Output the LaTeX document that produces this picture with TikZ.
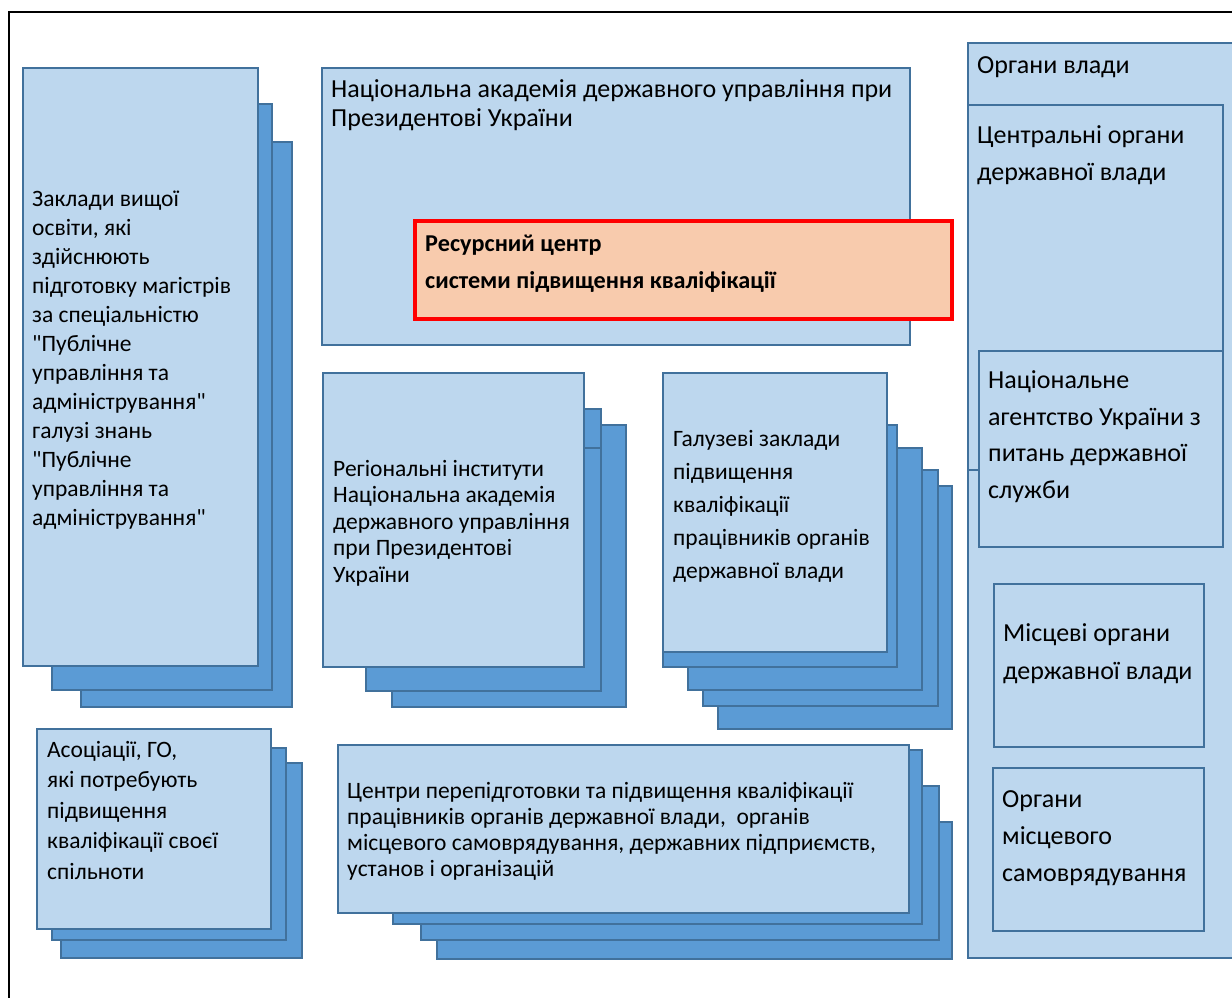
\documentclass[tikz,border=0pt]{standalone}
\usepackage{fontspec}
\setmainfont{Carlito}
\usepackage{tikz}
\usetikzlibrary{positioning}
\definecolor{paleblue}{HTML}{BDD7EE}
\definecolor{midblue}{HTML}{5B9BD5}
\definecolor{edgeblue}{HTML}{41719C}
\definecolor{peach}{HTML}{F8CBAD}

% box from corner (x1,y1) to (x2,y2)
\newcommand{\panel}[6]{%
  \node[#1, minimum width={#4-#2}, minimum height={#5-#3}] (#6) at ({(#2+#4)/2},{(#3+#5)/2}) {};}
\newcommand{\fsz}[2]{\fontsize{#1}{#2}\selectfont}
\newcommand{\qq}{\textquotedbl}

\begin{document}
\begin{tikzpicture}[x=1pt,y=-1pt,
    front/.style={rectangle,draw=edgeblue,line width=2pt,fill=paleblue,inner sep=0pt,outer sep=0pt},
    back/.style={rectangle,draw=edgeblue,line width=2pt,fill=midblue,inner sep=0pt,outer sep=0pt},
    hub/.style={rectangle,draw=red,line width=3.5pt,fill=peach,inner sep=0pt,outer sep=0pt},
    txt/.style={anchor=base west,inner sep=0pt,align=left,text=black}]
    \useasboundingbox (0,0) rectangle (1232,997);
    \clip (0,0) rectangle (1232,997);
    \fill[white] (0,0) rectangle (1232,997);

    % Outer frame
    \panel{draw=black,line width=2.5pt,inner sep=0pt}{9}{12}{1250}{1012}{frame}

    % Universities (last line baseline given)
    \panel{back}{81}{142}{292}{707}{univC}
    \panel{back}{52}{104}{272}{690}{univB}
    \panel{front}{23}{68}{258}{666}{univ}
    \node[txt,font=\fsz{23.5}{29}] (univT) at (32,525) {Заклади вищої\\освіти, які\\здійснюють\\підготовку магістрів\\за спеціальністю\\\qq Публічне\\управління та\\адміністрування\qq\\галузі знань\\\qq Публічне\\управління та\\адміністрування\qq};

    % Academy and resource centre
    \panel{front}{322}{68}{910}{345}{academy}
    \node[txt,font=\fsz{26}{29}] (academyT) at (331,126) {Національна академія державного управління при\\Президентові України};
    \panel{hub}{415}{221}{952}{319}{centre}
    \node[txt,font=\fsz{24.2}{37}\bfseries] (centreT) at (425,288) {Ресурсний центр\\системи підвищення кваліфікації};

    % Regional institutes
    \panel{back}{392}{425}{626}{707}{regC}
    \panel{back}{366}{409}{601}{691}{regB}
    \panel{back}{366}{448}{601}{691}{regA}
    \panel{front}{323}{373}{584}{667}{reg}
    \node[txt,font=\fsz{23.5}{26.5}] (regT) at (333,582) {Регіональні інститути\\Національна академія\\державного управління\\при Президентові\\України};

    % Branch institutions
    \panel{back}{718}{486}{952}{729}{branchD}
    \panel{back}{703}{470}{938}{706}{branchC}
    \panel{back}{688}{448}{922}{690}{branchB}
    \panel{back}{663}{425}{897}{667}{branchA}
    \panel{front}{663}{373}{887}{652}{branch}
    \node[txt,font=\fsz{23.5}{33}] (branchT) at (673,578) {Галузеві заклади\\підвищення\\кваліфікації\\працівників органів\\державної влади};

    % Associations
    \panel{back}{61}{763}{302}{958}{assocB}
    \panel{back}{52}{748}{286}{940}{assocA}
    \panel{front}{37}{729}{271}{929}{assoc}
    \node[txt,font=\fsz{23.5}{30.5}] (assocT) at (47,879) {Асоціації, ГО,\\які потребують\\підвищення\\кваліфікації своєї\\спільноти};

    % Retraining centres
    \panel{back}{437}{822}{952}{959}{retrC}
    \panel{back}{421}{786}{939}{940}{retrB}
    \panel{back}{393}{750}{922}{924}{retrA}
    \panel{front}{338}{745}{909}{913}{retr}
    \node[txt,font=\fsz{23.5}{25.7}] (retrT) at (347,876) {Центри перепідготовки та підвищення кваліфікації\\працівників органів державної влади,~ органів\\місцевого самоврядування, державних підприємств,\\установ і організацій};

    % Authorities
    \panel{front}{968}{43}{1250}{958}{power}
    \node[txt,font=\fsz{26}{29}] (powerT) at (977,73) {Органи влади};
    \panel{front}{968}{105}{1223}{470}{central}
    \node[txt,font=\fsz{26}{37}] (centralT) at (977,180) {Центральні органи\\державної влади};
    \panel{front}{979}{351}{1223}{547}{agency}
    \node[txt,font=\fsz{26}{36.5}] (agencyT) at (988,498) {Національне\\агентство України з\\питань державної\\служби};
    \panel{front}{994}{584}{1204}{747}{local}
    \node[txt,font=\fsz{26}{38}] (localT) at (1003,679) {Місцеві органи\\державної влади};
    \panel{front}{993}{768}{1204}{931}{selfgov}
    \node[txt,font=\fsz{26}{37}] (selfgovT) at (1002,881) {Органи\\місцевого\\самоврядування};
\end{tikzpicture}
\end{document}
